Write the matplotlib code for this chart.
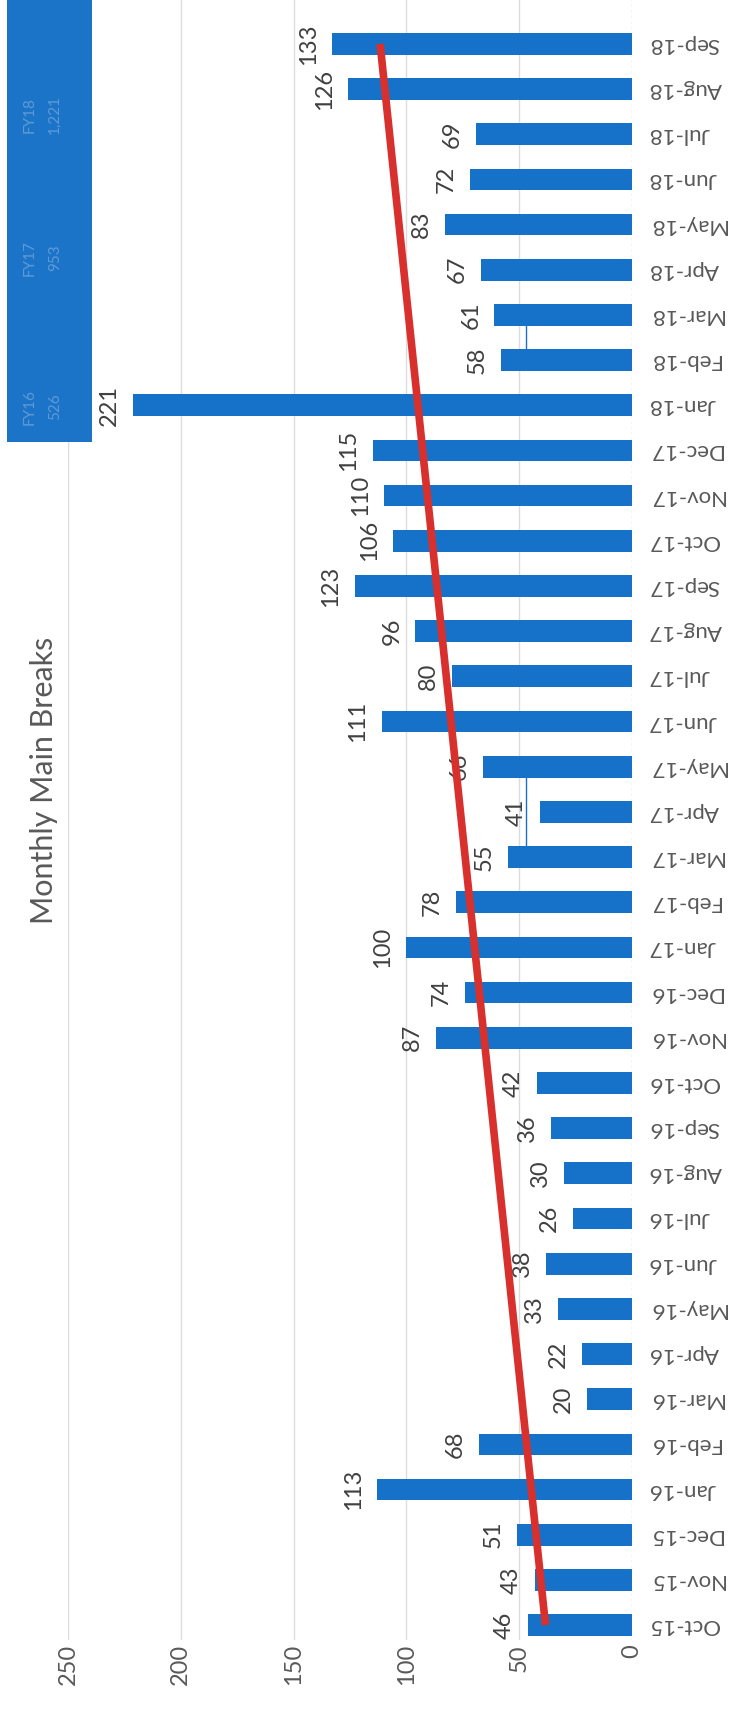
import numpy as np
import matplotlib
matplotlib.use("Agg")
import matplotlib.pyplot as plt
from matplotlib.patches import Rectangle

plt.rcParams['font.family'] = ['Lato', 'DejaVu Sans']

months = ['Oct-15', 'Nov-15', 'Dec-15', 'Jan-16', 'Feb-16', 'Mar-16', 'Apr-16', 'May-16',
          'Jun-16', 'Jul-16', 'Aug-16', 'Sep-16', 'Oct-16', 'Nov-16', 'Dec-16', 'Jan-17',
          'Feb-17', 'Mar-17', 'Apr-17', 'May-17', 'Jun-17', 'Jul-17', 'Aug-17', 'Sep-17',
          'Oct-17', 'Nov-17', 'Dec-17', 'Jan-18', 'Feb-18', 'Mar-18', 'Apr-18', 'May-18',
          'Jun-18', 'Jul-18', 'Aug-18', 'Sep-18']
breaks = [46, 43, 51, 113, 68, 20, 22, 33, 38, 26, 30, 36,
          42, 87, 74, 100, 78, 55, 41, 66, 111, 80, 96, 123,
          106, 110, 115, 221, 58, 61, 67, 83, 72, 69, 126, 133]
fy_names = ['FY16', 'FY17', 'FY18']
fy_totals = ['526', '953', '1,221']
ticks = [0, 50, 100, 150, 200, 250]

blue = '#1672c9'
grey = '#595959'

idx = np.arange(len(months))
vals = np.array(breaks)

fig = plt.figure(figsize=(7.34, 17.11), dpi=100)
W, H = 734, 1711
ax = fig.add_axes([68 / W, (H - 1640) / H, 564 / W, 1640 / H])

# chart is turned on its side: months run bottom to top, counts right to left
ax.barh(idx, vals, height=0.48, color=blue, zorder=3)
ax.set_xlim(250, 0)
ax.set_ylim(-0.33, 35.97)

for v in ticks[1:]:
    ax.axvline(v, color='#dcdcdc', lw=1, zorder=1)
ax.axvline(0, color='#d0d0d0', lw=1, ls=(0, (2, 2)), zorder=1)

for s in ax.spines.values():
    s.set_visible(False)

ax.set_xticks(ticks)
ax.set_xticklabels([str(t) for t in ticks], rotation=90, fontsize=17, color=grey)
ax.tick_params(axis='x', length=0, pad=3)

ax.yaxis.tick_right()
ax.set_yticks(idx)
ax.set_yticklabels(months, rotation=180, fontsize=16, color=grey, va='center')
ax.tick_params(axis='y', length=0, pad=12)

# value labels past the end of each bar
for i, v in zip(idx, vals):
    ax.annotate(str(v), (v, i), xytext=(-17, 0), textcoords='offset points',
                rotation=90, ha='center', va='center', fontsize=17, color='#404040', zorder=4)

# leader lines left by moved labels
ax.plot([47, 47], [17.25, 18.75], color=blue, lw=1, zorder=2)
ax.plot([47, 47], [28.25, 28.75], color=blue, lw=1, zorder=2)

# linear trend
slope, icpt = np.polyfit(idx, vals, 1)
ax.plot(slope * idx + icpt, idx, color='#d8302d', lw=5.5, zorder=5, solid_capstyle='butt')

fig.text(44 / W, 1 - 780 / H, 'Monthly Main Breaks', rotation=90, ha='center', va='center',
         fontsize=22, color=grey)

# fiscal-year totals box
fig.patches.append(Rectangle((7 / W, 1 - 442 / H), 85 / W, 442 / H, transform=fig.transFigure,
                             facecolor='#1c74c9', edgecolor='none', zorder=6))
for name, tot, yc in zip(fy_names, fy_totals, [407, 258, 115]):
    fig.text(30 / W, 1 - yc / H, name, rotation=90, ha='center', va='center',
             fontsize=11, color='#5d9ad6', zorder=7)
    fig.text(55 / W, 1 - yc / H, tot, rotation=90, ha='center', va='center',
             fontsize=11, color='#5d9ad6', zorder=7)

fig.savefig('out.png', dpi=100, facecolor='white')
